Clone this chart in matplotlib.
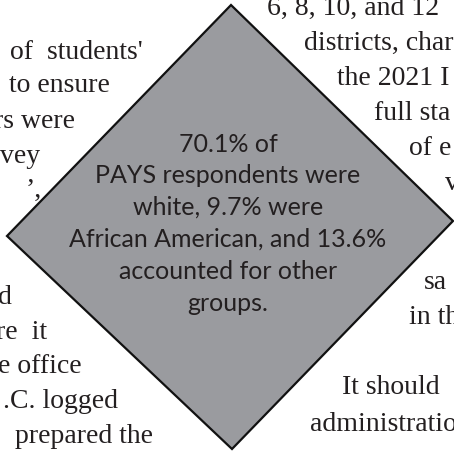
import matplotlib
matplotlib.use('Agg')
import matplotlib.pyplot as plt

W, H = 454, 452

# callout text inside the diamond
CALLOUT_LINES = [
    '70.1% of',
    'PAYS respondents were',
    'white, 9.7% were',
    'African American, and 13.6%',
    'accounted for other',
    'groups.',
]
CALLOUT_Y = [152, 183, 215, 247, 279, 311]   # baselines

# fragments of the article text around the diamond
# upper left: right ends follow the wrap around the diamond
UL_LINES = ["of  students'", 'to ensure', 'rs were', 'vey', '\u2019,']
UL_XEND = [143, 110, 75, 40, 42]
UL_Y = [59, 92, 128, 163, 197]

# lower left
LL_LINES = ['d', 're  it', 'e office', '.C. logged', 'prepared the']
LL_XEND = [12, 47, 82, 118, 153]
LL_Y = [304, 339, 373, 408, 443]

# upper right: left starts follow the wrap
UR_LINES = ['6, 8, 10, and 12', 'districts, char', 'the 2021 I', 'full sta',
            'of e', 'v']
UR_X = [267, 304, 337, 374, 409, 445]
UR_Y = [15, 50, 85, 120, 155, 190]

# lower right
LR_LINES = ['sa', 'in th', 'It should', 'administratio']
LR_X = [424, 409, 342, 310]
LR_Y = [289, 324, 394, 431]

DIAMOND_X = [231, 453, 232, 7]
DIAMOND_Y = [6, 222, 450, 237]

fig = plt.figure(figsize=(W / 100, H / 100), dpi=100)
ax = fig.add_axes([0, 0, 1, 1])
ax.set_xlim(0, W)
ax.set_ylim(H, 0)
ax.axis('off')

ink = '#231f20'
serif = dict(family='Liberation Serif', fontsize=20, color=ink, va='baseline')
for txt, x, y in zip(UL_LINES, UL_XEND, UL_Y):
    ax.text(x, y, txt, ha='right', **serif)
for txt, x, y in zip(LL_LINES, LL_XEND, LL_Y):
    ax.text(x, y, txt, ha='right', **serif)
for txt, x, y in zip(UR_LINES, UR_X, UR_Y):
    ax.text(x, y, txt, ha='left', **serif)
for txt, x, y in zip(LR_LINES, LR_X, LR_Y):
    ax.text(x, y, txt, ha='left', **serif)

ax.fill(DIAMOND_X, DIAMOND_Y, facecolor='#9a9b9f', edgecolor='#111111',
        linewidth=1.6, zorder=3)

for line, y in zip(CALLOUT_LINES, CALLOUT_Y):
    ax.text(228, y, line, family='Lato', fontsize=18, color=ink,
            ha='center', va='baseline', zorder=4)

fig.savefig('out.png', dpi=100)
